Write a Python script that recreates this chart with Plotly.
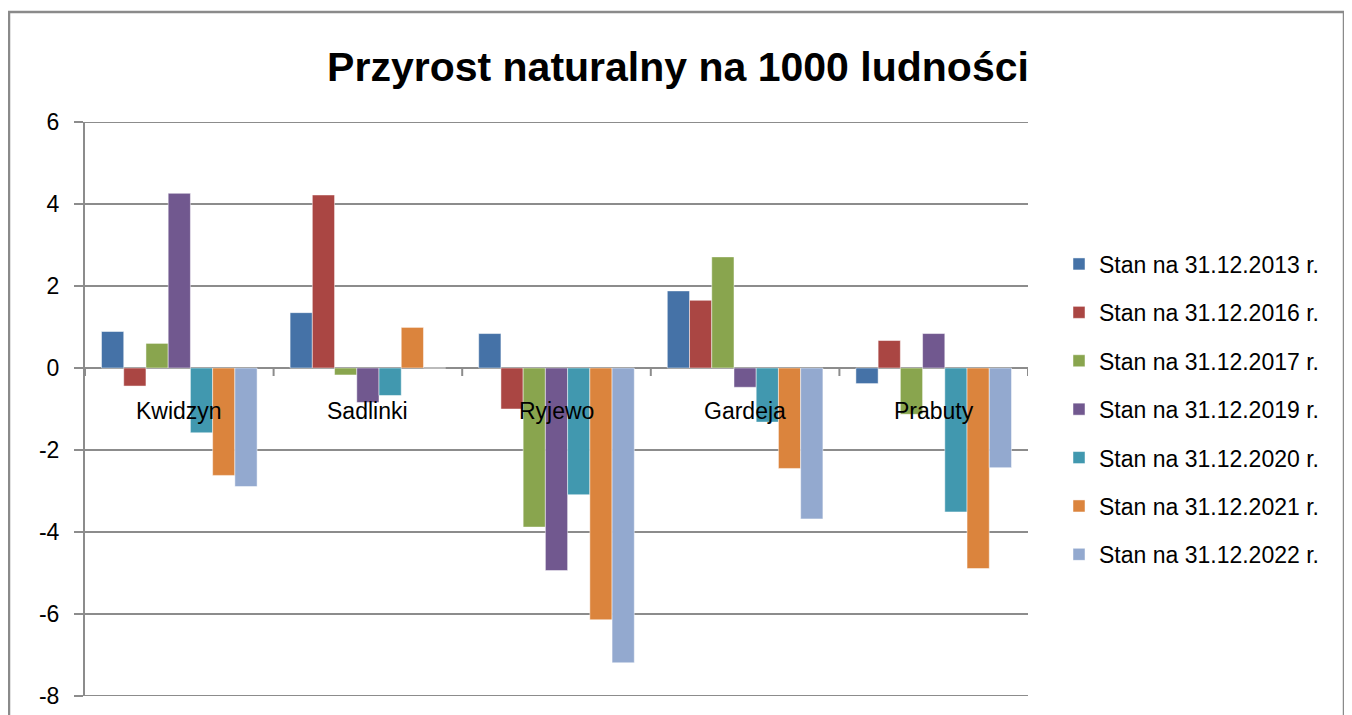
import plotly.graph_objects as go

categories = ["Kwidzyn", "Sadlinki", "Ryjewo", "Gardeja", "Prabuty"]
series_names = [
    "Stan na 31.12.2013 r.",
    "Stan na 31.12.2016 r.",
    "Stan na 31.12.2017 r.",
    "Stan na 31.12.2019 r.",
    "Stan na 31.12.2020 r.",
    "Stan na 31.12.2021 r.",
    "Stan na 31.12.2022 r.",
]
v2013 = [0.89, 1.35, 0.84, 1.88, -0.38]
v2016 = [-0.44, 4.22, -1.00, 1.65, 0.67]
v2017 = [0.60, -0.17, -3.88, 2.71, -1.13]
v2019 = [4.26, -0.84, -4.94, -0.47, 0.84]
v2020 = [-1.58, -0.67, -3.09, -1.32, -3.51]
v2021 = [-2.62, 0.99, -6.14, -2.45, -4.89]
v2022 = [-2.89, 0.0, -7.19, -3.68, -2.43]
series_values = [v2013, v2016, v2017, v2019, v2020, v2021, v2022]
y_tick_vals = [-8, -6, -4, -2, 0, 2, 4, 6]
y_tick_labels = ["-8", "-6", "-4", "-2", "0", "2", "4", "6"]
colors = ["#4572A7", "#AA4643", "#89A54E", "#71588F", "#4198AF", "#DB843D", "#93A9CF"]

# page body has an 8px margin; figure coordinates = screen - 8
W, H = 1344, 707
ml, mt = 77, 114
plot_right, plot_bottom = 1020, 688
mr, mb = W - plot_right, H - plot_bottom
pw, ph = W - ml - mr, H - mt - mb

FONT = "Liberation Sans, Arial, sans-serif"
GRID = "#8c8c8c"

fig = go.Figure()
for name, vals, col in zip(series_names, series_values, colors):
    fig.add_trace(go.Bar(
        x=list(range(len(categories))), y=vals, name=name,
        marker=dict(color=col, line=dict(color="rgba(255,255,255,0.6)", width=0.8)),
        legendgroup=name,
    ))

# category labels placed near the zero line (Excel style)
annotations = []
for i, c in enumerate(categories):
    annotations.append(dict(x=i, y=0, xref="x", yref="y", text=c, showarrow=False,
                            yshift=-43, font=dict(family=FONT, size=23, color="#000")))

shapes = []
zero_frac = (0 - y_tick_vals[0]) / (y_tick_vals[-1] - y_tick_vals[0])
# tick marks on zero line at category boundaries
for i in range(len(categories) + 1):
    shapes.append(dict(type="line", xref="x", yref="paper", x0=i - 0.5, x1=i - 0.5,
                       y0=zero_frac, y1=zero_frac - 8 / ph, line=dict(color=GRID, width=2)))
# gridlines at the range edges
for yv in (y_tick_vals[0], y_tick_vals[-1]):
    shapes.append(dict(type="line", xref="paper", yref="y", x0=0, x1=1, y0=yv, y1=yv,
                       line=dict(color=GRID, width=2), layer="below"))
# outer chart border
shapes.append(dict(type="rect", xref="paper", yref="paper",
                   x0=(1 - ml) / pw, x1=(1336 - ml) / pw,
                   y0=(plot_bottom - 730) / ph, y1=(plot_bottom - 4) / ph,
                   line=dict(color="#8a8a8a", width=2.5), layer="below"))

fig.update_layout(
    width=W, height=H,
    margin=dict(l=ml, r=mr, t=mt, b=mb, autoexpand=False),
    paper_bgcolor="white", plot_bgcolor="white",
    barmode="group", bargap=0.175, bargroupgap=0,
    title=dict(text="<b>Przyrost naturalny na 1000 ludności</b>", x=670 / W, xanchor="center",
               y=1 - 59 / H, yanchor="middle", font=dict(family=FONT, size=41, color="#000")),
    xaxis=dict(range=[-0.5, len(categories) - 0.5], showticklabels=False, showgrid=False,
               zeroline=False, showline=False, ticks="", fixedrange=True),
    yaxis=dict(range=[y_tick_vals[0], y_tick_vals[-1]], tickmode="array",
               tickvals=y_tick_vals, ticktext=y_tick_labels,
               showgrid=True, gridcolor=GRID, gridwidth=2,
               zeroline=True, zerolinecolor=GRID, zerolinewidth=2,
               showline=True, linecolor=GRID, linewidth=2, ticks="outside", ticklen=9,
               tickcolor=GRID, tickwidth=2, ticklabelstandoff=10,
               tickfont=dict(family=FONT, size=23, color="#000")),
    legend=dict(x=(1051 - ml) / pw, xanchor="left", y=(plot_bottom - 401.5) / ph, yanchor="middle",
                font=dict(family=FONT, size=23, color="#000"), traceorder="grouped",
                tracegroupgap=15.5, itemwidth=30, bgcolor="rgba(0,0,0,0)"),
    annotations=annotations, shapes=shapes,
    showlegend=True,
)

fig.write_html("out.html")
